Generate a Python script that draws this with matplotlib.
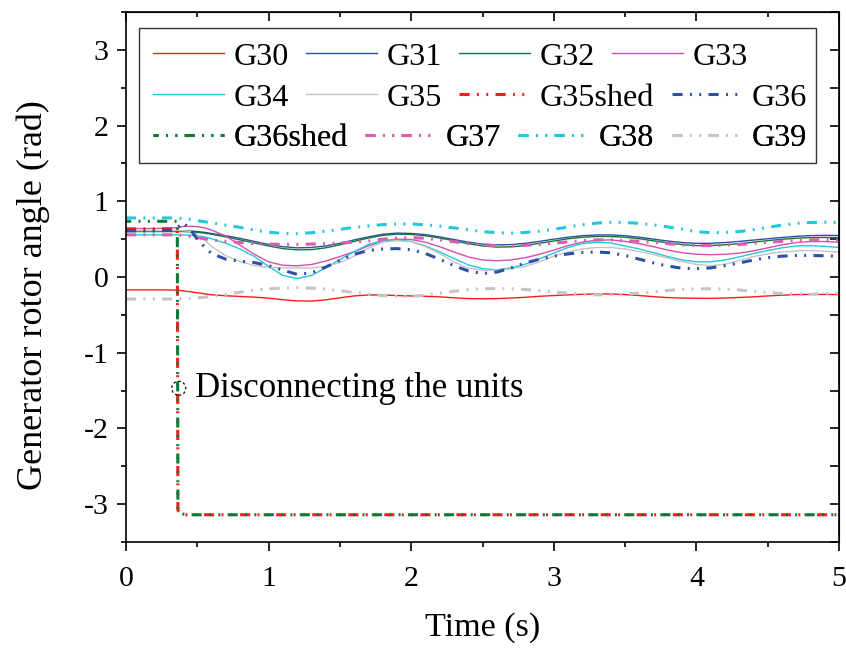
import matplotlib
matplotlib.use('Agg')
import matplotlib.pyplot as plt
from matplotlib.ticker import MultipleLocator
from matplotlib.patches import Rectangle, Ellipse

plt.rcParams['font.family'] = ['Liberation Serif', 'DejaVu Serif']
plt.rcParams['axes.unicode_minus'] = False

# ---------------- data ----------------
TIME = [0.0, 0.1, 0.2, 0.3, 0.35, 0.4, 0.45, 0.5, 0.55, 0.6,
        0.7, 0.8, 0.9, 1.0, 1.1, 1.2, 1.3, 1.4, 1.5, 1.6,
        1.7, 1.8, 1.9, 2.0, 2.1, 2.2, 2.3, 2.4, 2.5, 2.6,
        2.7, 2.8, 2.9, 3.0, 3.1, 3.2, 3.3, 3.4, 3.5, 3.6,
        3.7, 3.8, 3.9, 4.0, 4.1, 4.2, 4.3, 4.4, 4.5, 4.6,
        4.7, 4.8, 4.9, 5.0]

G30 = [-0.170, -0.170, -0.170, -0.171, -0.173, -0.182, -0.195, -0.208, -0.222, -0.235,
       -0.248, -0.257, -0.266, -0.280, -0.300, -0.316, -0.318, -0.302, -0.275, -0.250,
       -0.237, -0.238, -0.245, -0.250, -0.255, -0.262, -0.275, -0.285, -0.288, -0.285,
       -0.278, -0.268, -0.255, -0.245, -0.236, -0.228, -0.224, -0.225, -0.232, -0.245,
       -0.260, -0.272, -0.278, -0.281, -0.282, -0.278, -0.270, -0.262, -0.250, -0.240,
       -0.232, -0.230, -0.230, -0.232]
G31 = [0.610, 0.610, 0.610, 0.610, 0.610, 0.610, 0.607, 0.600, 0.590, 0.575,
       0.545, 0.510, 0.470, 0.430, 0.400, 0.385, 0.390, 0.410, 0.445, 0.490,
       0.530, 0.565, 0.580, 0.575, 0.560, 0.530, 0.495, 0.460, 0.435, 0.425,
       0.428, 0.445, 0.470, 0.500, 0.525, 0.545, 0.555, 0.556, 0.545, 0.525,
       0.500, 0.475, 0.455, 0.445, 0.445, 0.455, 0.470, 0.488, 0.505, 0.522,
       0.537, 0.547, 0.550, 0.548]
G32 = [0.600, 0.600, 0.600, 0.600, 0.600, 0.600, 0.597, 0.590, 0.580, 0.565,
       0.530, 0.490, 0.450, 0.410, 0.375, 0.358, 0.362, 0.385, 0.425, 0.470,
       0.515, 0.550, 0.565, 0.562, 0.545, 0.515, 0.478, 0.440, 0.410, 0.395,
       0.398, 0.415, 0.445, 0.475, 0.505, 0.525, 0.535, 0.535, 0.525, 0.505,
       0.478, 0.450, 0.428, 0.415, 0.415, 0.425, 0.440, 0.460, 0.480, 0.498,
       0.512, 0.520, 0.522, 0.520]
G33 = [0.640, 0.640, 0.640, 0.645, 0.652, 0.665, 0.670, 0.665, 0.650, 0.620,
       0.540, 0.420, 0.300, 0.200, 0.155, 0.148, 0.165, 0.210, 0.270, 0.335,
       0.410, 0.475, 0.500, 0.495, 0.460, 0.400, 0.330, 0.265, 0.225, 0.215,
       0.225, 0.255, 0.300, 0.355, 0.415, 0.460, 0.485, 0.490, 0.470, 0.440,
       0.400, 0.355, 0.320, 0.300, 0.295, 0.300, 0.315, 0.345, 0.385, 0.425,
       0.455, 0.468, 0.468, 0.460]
G34 = [0.557, 0.557, 0.557, 0.557, 0.557, 0.556, 0.552, 0.545, 0.530, 0.505,
       0.445, 0.370, 0.270, 0.140, 0.020, -0.020, 0.020, 0.120, 0.230, 0.335,
       0.430, 0.480, 0.490, 0.470, 0.410, 0.330, 0.245, 0.160, 0.110, 0.095,
       0.120, 0.170, 0.240, 0.315, 0.390, 0.440, 0.460, 0.450, 0.410, 0.370,
       0.320, 0.270, 0.225, 0.200, 0.200, 0.225, 0.265, 0.310, 0.350, 0.385,
       0.410, 0.415, 0.405, 0.390]
G35 = [0.613, 0.613, 0.613, 0.613, 0.613, 0.612, 0.600, 0.560, 0.490, 0.405,
       0.280, 0.205, 0.150, 0.125, 0.120, 0.120, 0.120, 0.140, 0.190, 0.275,
       0.380, 0.460, 0.480, 0.465, 0.400, 0.310, 0.200, 0.115, 0.090, 0.090,
       0.105, 0.140, 0.200, 0.275, 0.330, 0.370, 0.390, 0.390, 0.370, 0.335,
       0.295, 0.250, 0.205, 0.165, 0.150, 0.170, 0.220, 0.270, 0.305, 0.330,
       0.345, 0.350, 0.340, 0.330]
G36 = [0.610, 0.610, 0.610, 0.615, 0.630, 0.720, 0.630, 0.500, 0.400, 0.310,
       0.235, 0.210, 0.190, 0.150, 0.090, 0.035, 0.055, 0.130, 0.220, 0.300,
       0.350, 0.370, 0.375, 0.360, 0.310, 0.235, 0.150, 0.080, 0.045, 0.065,
       0.120, 0.185, 0.235, 0.275, 0.305, 0.325, 0.330, 0.320, 0.285, 0.235,
       0.185, 0.145, 0.115, 0.110, 0.120, 0.150, 0.185, 0.225, 0.255, 0.275,
       0.285, 0.285, 0.280, 0.275]
G37 = [0.557, 0.557, 0.557, 0.557, 0.557, 0.550, 0.535, 0.520, 0.505, 0.490,
       0.470, 0.455, 0.440, 0.435, 0.430, 0.430, 0.435, 0.440, 0.450, 0.460,
       0.475, 0.500, 0.515, 0.520, 0.510, 0.490, 0.465, 0.440, 0.425, 0.413,
       0.410, 0.418, 0.430, 0.446, 0.465, 0.480, 0.490, 0.490, 0.480, 0.470,
       0.455, 0.440, 0.425, 0.415, 0.415, 0.420, 0.430, 0.445, 0.458, 0.470,
       0.482, 0.490, 0.490, 0.485]
G38 = [0.780, 0.780, 0.780, 0.780, 0.778, 0.772, 0.760, 0.745, 0.730, 0.715,
       0.685, 0.655, 0.620, 0.592, 0.575, 0.572, 0.585, 0.605, 0.630, 0.655,
       0.675, 0.692, 0.700, 0.700, 0.690, 0.672, 0.648, 0.625, 0.600, 0.585,
       0.580, 0.588, 0.605, 0.630, 0.660, 0.690, 0.712, 0.722, 0.720, 0.708,
       0.688, 0.662, 0.632, 0.598, 0.585, 0.588, 0.600, 0.625, 0.655, 0.685,
       0.708, 0.720, 0.723, 0.720]
G39 = [-0.290, -0.290, -0.290, -0.290, -0.290, -0.288, -0.283, -0.275, -0.267, -0.258,
       -0.230, -0.200, -0.175, -0.157, -0.146, -0.142, -0.147, -0.160, -0.180, -0.205,
       -0.228, -0.245, -0.255, -0.255, -0.240, -0.215, -0.188, -0.166, -0.155, -0.152,
       -0.155, -0.165, -0.180, -0.198, -0.215, -0.228, -0.236, -0.235, -0.226, -0.212,
       -0.195, -0.178, -0.164, -0.156, -0.155, -0.160, -0.172, -0.188, -0.205, -0.218,
       -0.226, -0.228, -0.222, -0.212]

SHED_TIME = [0.0, 0.2, 0.36, 0.364, 0.38, 0.42, 1.0, 2.0, 3.0, 4.0, 5.0]
G35SHED = [0.636, 0.636, 0.636, -3.08, -3.12, -3.14, -3.14, -3.14, -3.14, -3.14, -3.14]
G36SHED = [0.736, 0.736, 0.736, -3.08, -3.12, -3.14, -3.14, -3.14, -3.14, -3.14, -3.14]

EVENT_T, EVENT_V = 0.37, -1.47
EVENT_TEXT = 'Disconnecting the units'

# ---------------- styling ----------------
RED = '#FF1A1A'
BLUE = '#2E4FA6'
GREEN = '#0F7A38'
MAGENTA = '#D64FA6'
CYAN = '#22C8DC'
GRAY = '#C4C4C4'
PINK = '#DA5DB0'

SOLID_LW = 1.0
DASH_LW = 2.2
DDOT = (0, (3.3, 2.4, 0.65, 2.4, 0.65, 2.4))
DDOT_OFF = (1.6, (3.3, 2.4, 0.65, 2.4, 0.65, 2.4))

fig = plt.figure(figsize=(8.46, 6.48), dpi=100)
ax = fig.add_axes([126/846, 1 - 542/648, (839 - 126)/846, (542 - 12)/648])

series = [
    ('G30', TIME, G30, RED, '-', SOLID_LW),
    ('G31', TIME, G31, BLUE, '-', SOLID_LW),
    ('G32', TIME, G32, GREEN, '-', SOLID_LW),
    ('G33', TIME, G33, MAGENTA, '-', SOLID_LW),
    ('G34', TIME, G34, CYAN, '-', SOLID_LW),
    ('G35', TIME, G35, GRAY, '-', SOLID_LW),
    ('G35shed', SHED_TIME, G35SHED, RED, DDOT, DASH_LW),
    ('G36', TIME, G36, BLUE, DDOT, DASH_LW),
    ('G36shed', SHED_TIME, G36SHED, GREEN, DDOT_OFF, DASH_LW),
    ('G37', TIME, G37, PINK, DDOT, DASH_LW),
    ('G38', TIME, G38, CYAN, DDOT, DASH_LW),
    ('G39', TIME, G39, GRAY, DDOT, DASH_LW),
]
lines = []
for name, xs, ys, c, ls, lw in series:
    ln, = ax.plot(xs, ys, color=c, linestyle=ls, linewidth=lw, label=name,
                  dash_capstyle='butt')
    lines.append(ln)

ax.set_xlim(0, 5)
ax.set_ylim(-3.5, 3.5)
ax.xaxis.set_major_locator(MultipleLocator(1))
ax.xaxis.set_minor_locator(MultipleLocator(0.5))
ax.yaxis.set_major_locator(MultipleLocator(1))
ax.yaxis.set_minor_locator(MultipleLocator(0.5))
ax.tick_params(which='both', direction='out', width=1.2, labelsize=21.5)
ax.tick_params(axis='x', which='both', pad=11)
ax.tick_params(axis='y', which='both', pad=6)
ax.tick_params(which='major', length=6.5)
ax.tick_params(which='minor', length=3.5)
for sp in ax.spines.values():
    sp.set_linewidth(1.2)

secx = ax.secondary_xaxis('top')
secx.xaxis.set_major_locator(MultipleLocator(1))
secx.xaxis.set_minor_locator(MultipleLocator(0.5))
secx.tick_params(which='both', direction='in', width=1.2, labeltop=False)
secx.tick_params(which='major', length=6.5)
secx.tick_params(which='minor', length=3.5)
secy = ax.secondary_yaxis('right')
secy.yaxis.set_major_locator(MultipleLocator(1))
secy.yaxis.set_minor_locator(MultipleLocator(0.5))
secy.tick_params(which='both', direction='in', width=1.2, labelright=False)
secy.tick_params(which='major', length=6.5)
secy.tick_params(which='minor', length=6.5)

ax.set_xlabel('Time (s)', fontsize=24.5, labelpad=14)
ax.set_ylabel('Generator rotor angle (rad)', fontsize=26)
ax.yaxis.set_label_coords(-0.107, 0.466)

# annotation
ax.add_patch(Ellipse((EVENT_T, EVENT_V), width=14/143, height=14/75.8, fill=False,
                     edgecolor='black', linestyle=(0, (2, 2)), linewidth=0.9, zorder=6))
ax.text(EVENT_T + 0.115, EVENT_V, EVENT_TEXT, fontsize=25, va='center', ha='left')

# legend frame + three flowing rows
ax.add_patch(Rectangle((139/846, 1 - 163/648), 677/846, 135/648, transform=fig.transFigure,
                       facecolor='white', edgecolor='#333333', linewidth=1.0,
                       clip_on=False, zorder=4))
row_y = [57, 98, 138]
for i, yp in enumerate(row_y):
    leg = ax.legend(handles=lines[4*i:4*i + 4], ncol=4, loc='center left',
                    bbox_to_anchor=(153/846, 1 - yp/648), bbox_transform=fig.transFigure,
                    frameon=False, fontsize=23.1, handlelength=2.2, handletextpad=0.3,
                    columnspacing=0.55, borderpad=0, borderaxespad=0)
    leg.set_zorder(5)
    ax.add_artist(leg)

fig.savefig('out.png', dpi=100)
